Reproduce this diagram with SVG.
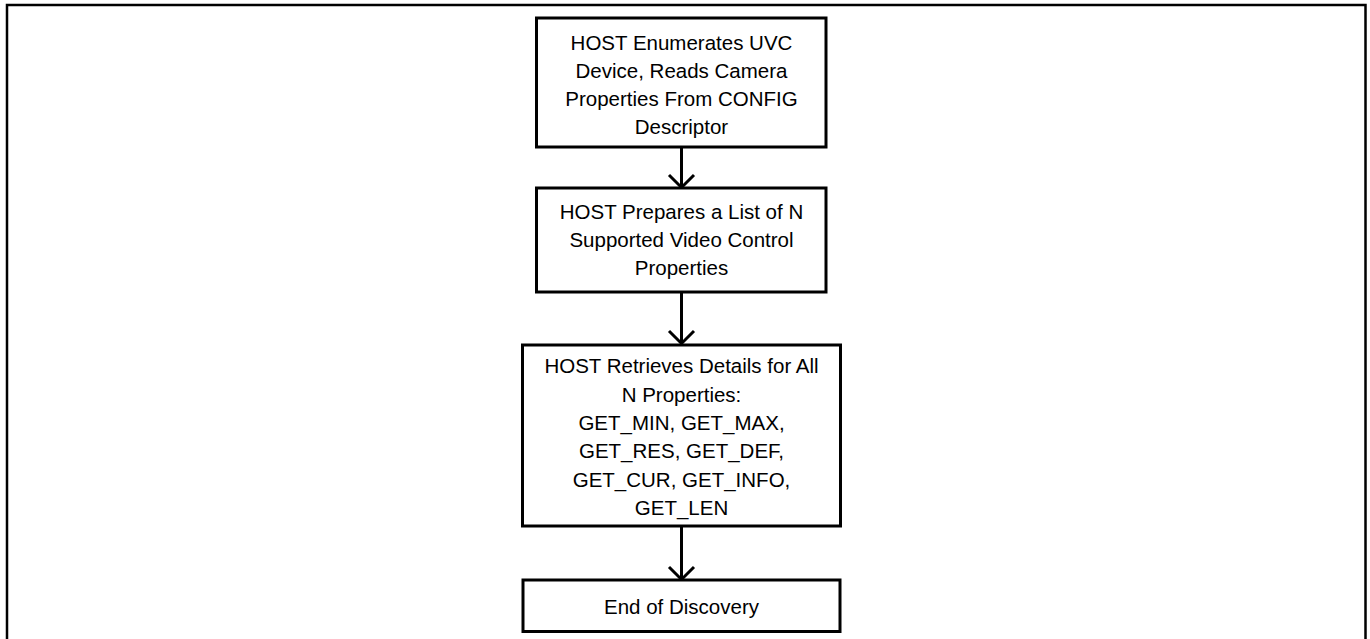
<svg xmlns="http://www.w3.org/2000/svg" width="1370" height="639" viewBox="0 0 1370 639">
  <style>
    .frame { fill: none; stroke: #000; stroke-width: 2.5; }
    .box { fill: #fff; stroke: #000; stroke-width: 3; }
    .conn { fill: none; stroke: #000; stroke-width: 3; }
    .lbl { font-family: "Liberation Sans", Arial, sans-serif; font-size: 20.5px; fill: #000; text-anchor: middle; }
  </style>
  <rect width="1370" height="639" fill="#fff"/>
  <path class="frame" d="M7,645 V5 H1365.5 V645"/>
  <g id="connectors">
    <path class="conn" d="M681.5,147 V187 M669,175 L681.5,187.5 L694,175"/>
    <path class="conn" d="M681.5,292 V343 M669,331 L681.5,343.5 L694,331"/>
    <path class="conn" d="M681.5,526 V579 M669,567 L681.5,579.5 L694,567"/>
  </g>
  <g id="node1">
    <rect class="box" x="536.5" y="18" width="289.5" height="129"/>
    <text class="lbl" x="681.5" y="50">HOST Enumerates UVC</text>
    <text class="lbl" x="681.5" y="78">Device, Reads Camera</text>
    <text class="lbl" x="681.5" y="106">Properties From CONFIG</text>
    <text class="lbl" x="681.5" y="134">Descriptor</text>
  </g>
  <g id="node2">
    <rect class="box" x="536.5" y="188" width="289.5" height="104"/>
    <text class="lbl" x="681.5" y="219">HOST Prepares a List of N</text>
    <text class="lbl" x="681.5" y="247">Supported Video Control</text>
    <text class="lbl" x="681.5" y="275">Properties</text>
  </g>
  <g id="node3">
    <rect class="box" x="522.5" y="345" width="318" height="181"/>
    <text class="lbl" x="681.5" y="373">HOST Retrieves Details for All</text>
    <text class="lbl" x="681.5" y="401.5">N Properties:</text>
    <text class="lbl" x="681.5" y="430">GET_MIN, GET_MAX,</text>
    <text class="lbl" x="681.5" y="458">GET_RES, GET_DEF,</text>
    <text class="lbl" x="681.5" y="486.5">GET_CUR, GET_INFO,</text>
    <text class="lbl" x="681.5" y="515">GET_LEN</text>
  </g>
  <g id="node4">
    <rect class="box" x="523" y="580" width="317" height="51.5"/>
    <text class="lbl" x="681.5" y="614">End of Discovery</text>
  </g>
</svg>
